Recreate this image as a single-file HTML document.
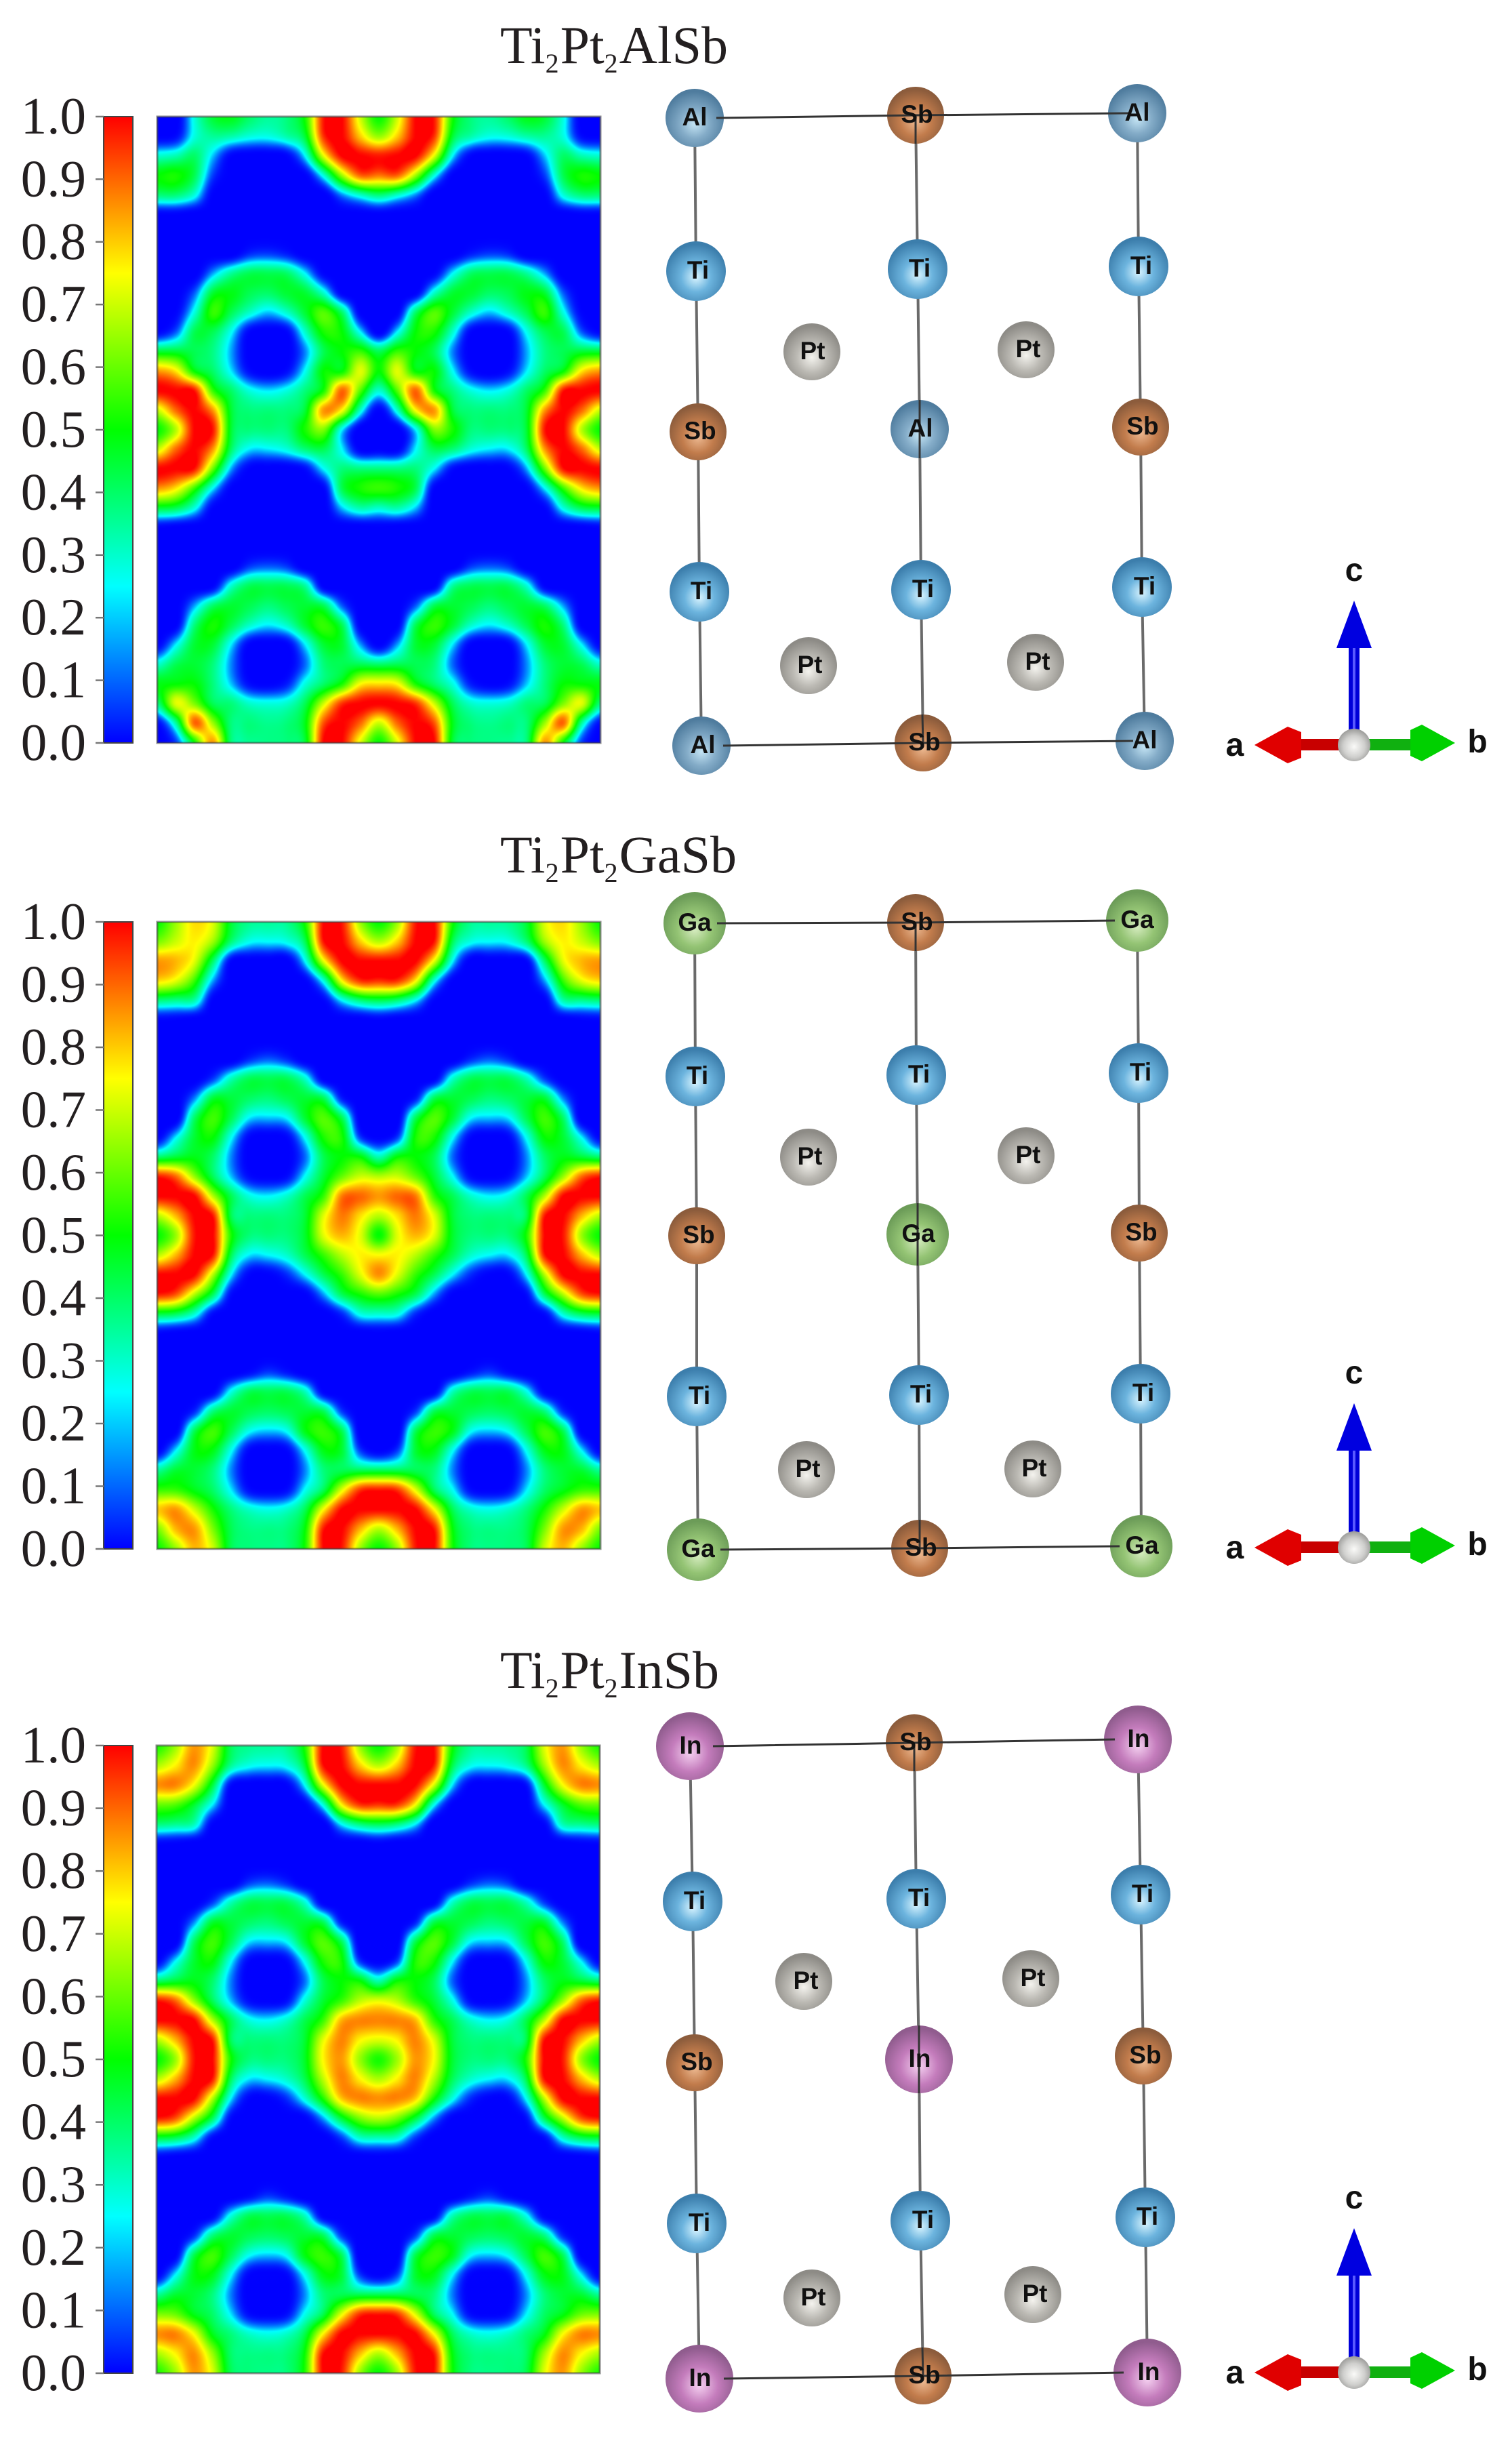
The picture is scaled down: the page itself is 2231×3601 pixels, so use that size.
<!DOCTYPE html>
<html lang="en">
<head>
<meta charset="utf-8">
<title>Ti2Pt2XSb electron localisation function maps and crystal structures</title>
<style>
html,body{margin:0;padding:0;background:#fff;}
#figure{position:relative;width:2231px;height:3601px;overflow:hidden;background:#fff;}
canvas{position:absolute;display:block;}
#overlay{position:absolute;left:0;top:0;}
.title{font-family:"Liberation Serif",serif;font-size:78px;fill:#231f20;}
.tick-label{font-family:"Liberation Serif",serif;font-size:77px;fill:#231f20;}
.atom-label{font-family:"Liberation Sans",sans-serif;font-size:37px;font-weight:bold;fill:#111;text-anchor:middle;}
.axis-letter{font-family:"Liberation Sans",sans-serif;font-size:48px;font-weight:bold;fill:#111;text-anchor:middle;}
.bond{stroke:#6a6a6a;stroke-width:4;fill:none;}
.over{stroke:#333;stroke-width:3;fill:none;}
</style>
</head>
<body>
<div id="figure">
<canvas id="map-al" width="654" height="924" style="left:232px;top:172px"></canvas>
<canvas id="map-ga" width="654" height="925" style="left:232px;top:1360px"></canvas>
<canvas id="map-in" width="654" height="926" style="left:231px;top:2575px"></canvas>
<svg id="overlay" width="2231" height="3601" viewBox="0 0 2231 3601" xmlns="http://www.w3.org/2000/svg">
<defs>
<linearGradient id="jet" x1="0" y1="1" x2="0" y2="0">
<stop offset="0" stop-color="#0000ff"/><stop offset=".25" stop-color="#00ffff"/><stop offset=".5" stop-color="#00ff00"/><stop offset=".75" stop-color="#ffff00"/><stop offset="1" stop-color="#ff0000"/>
</linearGradient>
<radialGradient id="g-al" cx=".5" cy=".6" r=".55"><stop offset="0" stop-color="#c4e4f4"/><stop offset=".45" stop-color="#84acc8"/><stop offset="1" stop-color="#4f7c9e"/></radialGradient>
<radialGradient id="g-ti" cx=".5" cy=".6" r=".55"><stop offset="0" stop-color="#d8f4ff"/><stop offset=".45" stop-color="#6cb4de"/><stop offset="1" stop-color="#3c7eac"/></radialGradient>
<radialGradient id="g-sb" cx=".5" cy=".6" r=".55"><stop offset="0" stop-color="#ecb890"/><stop offset=".5" stop-color="#c27c4c"/><stop offset="1" stop-color="#8c5c3c"/></radialGradient>
<radialGradient id="g-pt" cx=".5" cy=".6" r=".55"><stop offset="0" stop-color="#f4f3ee"/><stop offset=".5" stop-color="#bab8b2"/><stop offset="1" stop-color="#8d8b86"/></radialGradient>
<radialGradient id="g-ga" cx=".5" cy=".6" r=".55"><stop offset="0" stop-color="#d6ecc0"/><stop offset=".5" stop-color="#94c474"/><stop offset="1" stop-color="#6c9c58"/></radialGradient>
<radialGradient id="g-in" cx=".5" cy=".6" r=".55"><stop offset="0" stop-color="#f4d0f0"/><stop offset=".5" stop-color="#c47cbc"/><stop offset="1" stop-color="#905c8e"/></radialGradient>
<radialGradient id="g-origin" cx=".5" cy=".55" r=".55"><stop offset="0" stop-color="#fafaf8"/><stop offset=".6" stop-color="#cfcfcd"/><stop offset="1" stop-color="#9a9a98"/></radialGradient>
</defs>

<!-- Titles -->
<text class="title" x="738" y="93">Ti<tspan font-size="40" dy="14">2</tspan><tspan dy="-14" dx="2">Pt</tspan><tspan font-size="40" dy="14">2</tspan><tspan dy="-14" dx="2">AlSb</tspan></text>
<text class="title" x="738" y="1287">Ti<tspan font-size="40" dy="14">2</tspan><tspan dy="-14" dx="2">Pt</tspan><tspan font-size="40" dy="14">2</tspan><tspan dy="-14" dx="2">GaSb</tspan></text>
<text class="title" x="738" y="2490">Ti<tspan font-size="40" dy="14">2</tspan><tspan dy="-14" dx="2">Pt</tspan><tspan font-size="40" dy="14">2</tspan><tspan dy="-14" dx="2">InSb</tspan></text>

<!-- Map frames and colour bars -->
<rect x="232" y="172" width="654" height="924" fill="none" stroke="#444" stroke-opacity=".6" stroke-width="3"/>
<rect x="232" y="1360" width="654" height="925" fill="none" stroke="#444" stroke-opacity=".6" stroke-width="3"/>
<rect x="231" y="2575" width="654" height="926" fill="none" stroke="#444" stroke-opacity=".6" stroke-width="3"/>
<rect x="153" y="172" width="43" height="924" fill="url(#jet)" stroke="#444" stroke-width="2"/>
<rect x="153" y="1360" width="43" height="925" fill="url(#jet)" stroke="#444" stroke-width="2"/>
<rect x="153" y="2575" width="43" height="926" fill="url(#jet)" stroke="#444" stroke-width="2"/>
<g id="colorbar-ticks"></g>

<!-- Ti2Pt2AlSb structure -->
<g>
<g class="bond">
<path d="M1025 174L1027 400L1030 637L1032 873L1035 1100"/><path d="M1351 170L1354 397L1357 633L1359 870L1362 1096"/><path d="M1678 167L1680 393L1683 630L1685 866L1689 1093"/>
</g>
<g><circle cx="1025" cy="174" r="43" fill="url(#g-al)"/></g>
<g><circle cx="1351" cy="170" r="42" fill="url(#g-sb)"/></g>
<g><circle cx="1678" cy="167" r="43" fill="url(#g-al)"/></g>
<g><circle cx="1027" cy="400" r="44" fill="url(#g-ti)"/></g>
<g><circle cx="1354" cy="397" r="44" fill="url(#g-ti)"/></g>
<g><circle cx="1680" cy="393" r="44" fill="url(#g-ti)"/></g>
<g><circle cx="1030" cy="637" r="42" fill="url(#g-sb)"/></g>
<g><circle cx="1357" cy="633" r="43" fill="url(#g-al)"/></g>
<g><circle cx="1683" cy="630" r="42" fill="url(#g-sb)"/></g>
<g><circle cx="1032" cy="873" r="44" fill="url(#g-ti)"/></g>
<g><circle cx="1359" cy="870" r="44" fill="url(#g-ti)"/></g>
<g><circle cx="1685" cy="866" r="44" fill="url(#g-ti)"/></g>
<g><circle cx="1035" cy="1100" r="43" fill="url(#g-al)"/></g>
<g><circle cx="1362" cy="1096" r="42" fill="url(#g-sb)"/></g>
<g><circle cx="1689" cy="1093" r="43" fill="url(#g-al)"/></g>
<g><circle cx="1198" cy="519" r="42" fill="url(#g-pt)"/></g>
<g><circle cx="1514" cy="516" r="42" fill="url(#g-pt)"/></g>
<g><circle cx="1193" cy="982" r="42" fill="url(#g-pt)"/></g>
<g><circle cx="1528" cy="977" r="42" fill="url(#g-pt)"/></g>
<g class="over">
<path d="M1057 174L1351 170L1668 167"/><path d="M1067 1100L1362 1096L1672 1093"/><path d="M1351 170V212"/><path d="M1357 590V676"/><path d="M1361 1054L1362 1096"/>
</g>
<g>
<text class="atom-label" x="1025" y="185">Al</text>
<text class="atom-label" x="1353" y="181">Sb</text>
<text class="atom-label" x="1678" y="178">Al</text>
<text class="atom-label" x="1030" y="411">Ti</text>
<text class="atom-label" x="1357" y="408">Ti</text>
<text class="atom-label" x="1684" y="404">Ti</text>
<text class="atom-label" x="1033" y="648">Sb</text>
<text class="atom-label" x="1358" y="644">Al</text>
<text class="atom-label" x="1686" y="641">Sb</text>
<text class="atom-label" x="1035" y="884">Ti</text>
<text class="atom-label" x="1362" y="881">Ti</text>
<text class="atom-label" x="1689" y="877">Ti</text>
<text class="atom-label" x="1037" y="1111">Al</text>
<text class="atom-label" x="1364" y="1107">Sb</text>
<text class="atom-label" x="1689" y="1104">Al</text>
<text class="atom-label" x="1199" y="530">Pt</text>
<text class="atom-label" x="1517" y="527">Pt</text>
<text class="atom-label" x="1195" y="993">Pt</text>
<text class="atom-label" x="1531" y="988">Pt</text>
</g>
</g>

<!-- Ti2Pt2GaSb structure -->
<g>
<g class="bond">
<path d="M1025 1362L1026 1588L1028 1823L1028 2060L1030 2286"/><path d="M1351 1361L1352 1586L1354 1821L1356 2058L1357 2284"/><path d="M1678 1358L1680 1583L1681 1819L1683 2056L1684 2281"/>
</g>
<g><circle cx="1025" cy="1362" r="46" fill="url(#g-ga)"/></g>
<g><circle cx="1351" cy="1361" r="42" fill="url(#g-sb)"/></g>
<g><circle cx="1678" cy="1358" r="46" fill="url(#g-ga)"/></g>
<g><circle cx="1026" cy="1588" r="44" fill="url(#g-ti)"/></g>
<g><circle cx="1352" cy="1586" r="44" fill="url(#g-ti)"/></g>
<g><circle cx="1680" cy="1583" r="44" fill="url(#g-ti)"/></g>
<g><circle cx="1028" cy="1823" r="42" fill="url(#g-sb)"/></g>
<g><circle cx="1354" cy="1821" r="46" fill="url(#g-ga)"/></g>
<g><circle cx="1681" cy="1819" r="42" fill="url(#g-sb)"/></g>
<g><circle cx="1028" cy="2060" r="44" fill="url(#g-ti)"/></g>
<g><circle cx="1356" cy="2058" r="44" fill="url(#g-ti)"/></g>
<g><circle cx="1683" cy="2056" r="44" fill="url(#g-ti)"/></g>
<g><circle cx="1030" cy="2286" r="46" fill="url(#g-ga)"/></g>
<g><circle cx="1357" cy="2284" r="42" fill="url(#g-sb)"/></g>
<g><circle cx="1684" cy="2281" r="46" fill="url(#g-ga)"/></g>
<g><circle cx="1193" cy="1707" r="42" fill="url(#g-pt)"/></g>
<g><circle cx="1514" cy="1705" r="42" fill="url(#g-pt)"/></g>
<g><circle cx="1190" cy="2168" r="42" fill="url(#g-pt)"/></g>
<g><circle cx="1524" cy="2167" r="42" fill="url(#g-pt)"/></g>
<g class="over">
<path d="M1058 1362L1351 1361L1645 1358"/><path d="M1063 2286L1357 2284L1652 2281"/><path d="M1351 1361V1403"/><path d="M1354 1775V1867"/><path d="M1357 2242V2284"/>
</g>
<g>
<text class="atom-label" x="1025" y="1373">Ga</text>
<text class="atom-label" x="1353" y="1372">Sb</text>
<text class="atom-label" x="1678" y="1369">Ga</text>
<text class="atom-label" x="1029" y="1599">Ti</text>
<text class="atom-label" x="1356" y="1597">Ti</text>
<text class="atom-label" x="1683" y="1594">Ti</text>
<text class="atom-label" x="1031" y="1834">Sb</text>
<text class="atom-label" x="1355" y="1832">Ga</text>
<text class="atom-label" x="1684" y="1830">Sb</text>
<text class="atom-label" x="1032" y="2071">Ti</text>
<text class="atom-label" x="1359" y="2069">Ti</text>
<text class="atom-label" x="1687" y="2067">Ti</text>
<text class="atom-label" x="1030" y="2297">Ga</text>
<text class="atom-label" x="1359" y="2295">Sb</text>
<text class="atom-label" x="1685" y="2292">Ga</text>
<text class="atom-label" x="1195" y="1718">Pt</text>
<text class="atom-label" x="1517" y="1716">Pt</text>
<text class="atom-label" x="1192" y="2179">Pt</text>
<text class="atom-label" x="1526" y="2178">Pt</text>
</g>
</g>

<!-- Ti2Pt2InSb structure -->
<g>
<g class="bond">
<path d="M1018 2576L1022 2805L1025 3043L1028 3280L1032 3509"/><path d="M1349 2571L1352 2801L1356 3038L1358 3276L1362 3505"/><path d="M1679 2566L1683 2795L1687 3033L1690 3271L1693 3500"/>
</g>
<g><circle cx="1018" cy="2576" r="50" fill="url(#g-in)"/></g>
<g><circle cx="1349" cy="2571" r="42" fill="url(#g-sb)"/></g>
<g><circle cx="1679" cy="2566" r="50" fill="url(#g-in)"/></g>
<g><circle cx="1022" cy="2805" r="44" fill="url(#g-ti)"/></g>
<g><circle cx="1352" cy="2801" r="44" fill="url(#g-ti)"/></g>
<g><circle cx="1683" cy="2795" r="44" fill="url(#g-ti)"/></g>
<g><circle cx="1025" cy="3043" r="42" fill="url(#g-sb)"/></g>
<g><circle cx="1356" cy="3038" r="50" fill="url(#g-in)"/></g>
<g><circle cx="1687" cy="3033" r="42" fill="url(#g-sb)"/></g>
<g><circle cx="1028" cy="3280" r="44" fill="url(#g-ti)"/></g>
<g><circle cx="1358" cy="3276" r="44" fill="url(#g-ti)"/></g>
<g><circle cx="1690" cy="3271" r="44" fill="url(#g-ti)"/></g>
<g><circle cx="1032" cy="3509" r="50" fill="url(#g-in)"/></g>
<g><circle cx="1362" cy="3505" r="42" fill="url(#g-sb)"/></g>
<g><circle cx="1693" cy="3500" r="50" fill="url(#g-in)"/></g>
<g><circle cx="1186" cy="2923" r="42" fill="url(#g-pt)"/></g>
<g><circle cx="1521" cy="2919" r="42" fill="url(#g-pt)"/></g>
<g><circle cx="1198" cy="3390" r="42" fill="url(#g-pt)"/></g>
<g><circle cx="1524" cy="3385" r="42" fill="url(#g-pt)"/></g>
<g class="over">
<path d="M1052 2576L1349 2571L1645 2566"/><path d="M1068 3509L1362 3505L1658 3500"/><path d="M1349 2571V2613"/><path d="M1356 2988V3088"/><path d="M1361 3463L1362 3505"/>
</g>
<g>
<text class="atom-label" x="1019" y="2587">In</text>
<text class="atom-label" x="1351" y="2582">Sb</text>
<text class="atom-label" x="1680" y="2577">In</text>
<text class="atom-label" x="1025" y="2816">Ti</text>
<text class="atom-label" x="1356" y="2812">Ti</text>
<text class="atom-label" x="1686" y="2806">Ti</text>
<text class="atom-label" x="1028" y="3054">Sb</text>
<text class="atom-label" x="1357" y="3049">In</text>
<text class="atom-label" x="1690" y="3044">Sb</text>
<text class="atom-label" x="1032" y="3291">Ti</text>
<text class="atom-label" x="1362" y="3287">Ti</text>
<text class="atom-label" x="1693" y="3282">Ti</text>
<text class="atom-label" x="1033" y="3520">In</text>
<text class="atom-label" x="1364" y="3516">Sb</text>
<text class="atom-label" x="1695" y="3511">In</text>
<text class="atom-label" x="1189" y="2934">Pt</text>
<text class="atom-label" x="1524" y="2930">Pt</text>
<text class="atom-label" x="1200" y="3401">Pt</text>
<text class="atom-label" x="1527" y="3396">Pt</text>
</g>
</g>

<!-- Orientation axes -->
<g>
<rect x="1990" y="950" width="16" height="140" fill="#0000d8"/><rect x="1996" y="950" width="4" height="140" fill="#5a5aff"/>
<polygon points="1998,886 2024,956 1972,956" fill="#0000e0"/>
<rect x="1905" y="1090" width="78" height="17" fill="#c80000"/>
<polygon points="1851,1099 1900,1072 1920,1080 1920,1118 1900,1126" fill="#e00000"/>
<rect x="2012" y="1090" width="76" height="17" fill="#10b010"/>
<polygon points="2147,1096 2098,1069 2081,1077 2081,1115 2098,1123" fill="#00d000"/>
<circle cx="1998" cy="1099" r="24" fill="url(#g-origin)"/>
<text class="axis-letter" x="1998" y="857">c</text>
<text class="axis-letter" x="1822" y="1115">a</text>
<text class="axis-letter" x="2180" y="1110">b</text>
</g>
<g transform="translate(0,1184)">
<rect x="1990" y="950" width="16" height="140" fill="#0000d8"/><rect x="1996" y="950" width="4" height="140" fill="#5a5aff"/>
<polygon points="1998,886 2024,956 1972,956" fill="#0000e0"/>
<rect x="1905" y="1090" width="78" height="17" fill="#c80000"/>
<polygon points="1851,1099 1900,1072 1920,1080 1920,1118 1900,1126" fill="#e00000"/>
<rect x="2012" y="1090" width="76" height="17" fill="#10b010"/>
<polygon points="2147,1096 2098,1069 2081,1077 2081,1115 2098,1123" fill="#00d000"/>
<circle cx="1998" cy="1099" r="24" fill="url(#g-origin)"/>
<text class="axis-letter" x="1998" y="857">c</text>
<text class="axis-letter" x="1822" y="1115">a</text>
<text class="axis-letter" x="2180" y="1110">b</text>
</g>
<g transform="translate(0,2401)">
<rect x="1990" y="950" width="16" height="140" fill="#0000d8"/><rect x="1996" y="950" width="4" height="140" fill="#5a5aff"/>
<polygon points="1998,886 2024,956 1972,956" fill="#0000e0"/>
<rect x="1905" y="1090" width="78" height="17" fill="#c80000"/>
<polygon points="1851,1099 1900,1072 1920,1080 1920,1118 1900,1126" fill="#e00000"/>
<rect x="2012" y="1090" width="76" height="17" fill="#10b010"/>
<polygon points="2147,1096 2098,1069 2081,1077 2081,1115 2098,1123" fill="#00d000"/>
<circle cx="1998" cy="1099" r="24" fill="url(#g-origin)"/>
<text class="axis-letter" x="1998" y="857">c</text>
<text class="axis-letter" x="1822" y="1115">a</text>
<text class="axis-letter" x="2180" y="1110">b</text>
</g>
</svg>
</div>
<script>
// Colour-bar tick values, shared by all three panels.
const tickValues = [0.0, 0.1, 0.2, 0.3, 0.4, 0.5, 0.6, 0.7, 0.8, 0.9, 1.0];
const tickLabels = ["0.0", "0.1", "0.2", "0.3", "0.4", "0.5", "0.6", "0.7", "0.8", "0.9", "1.0"];

// ELF values in hundredths, read from the maps: 33 rows top to bottom,
// 13 columns from the left edge to the centre line (the right half mirrors them).
const elfAlSb = [
[0,0,28,45,48,40,35,38,52,98,100,70,50],
[2,5,28,35,33,28,27,33,45,95,100,80,65],
[30,33,40,22,3,0,0,3,25,72,100,100,98],
[50,52,42,12,0,0,0,0,2,28,65,90,88],
[38,38,28,2,0,0,0,0,0,0,18,30,38],
[2,2,0,0,0,0,0,0,0,0,0,0,1],
[0,0,0,0,0,0,0,0,0,0,0,0,0],
[0,0,0,0,0,10,12,8,0,0,0,0,0],
[0,0,0,20,35,42,42,40,25,3,0,0,0],
[0,0,15,45,48,42,40,45,45,30,2,0,0],
[0,3,28,55,42,30,22,30,45,58,40,2,0],
[3,15,42,42,26,3,0,3,30,52,50,25,1],
[45,45,42,37,20,0,0,0,18,42,50,55,42],
[85,77,50,40,24,5,0,5,26,50,50,72,50],
[100,100,98,55,40,28,24,28,38,52,90,58,30],
[70,90,100,85,45,38,38,38,45,85,75,30,3],
[50,68,100,98,45,38,38,38,52,62,25,0,0],
[70,90,100,85,40,24,24,28,38,42,25,2,2],
[100,100,98,60,20,2,0,0,5,25,38,38,38],
[85,77,55,25,2,0,0,0,0,3,42,52,55],
[45,42,28,3,0,0,0,0,0,0,22,33,30],
[3,1,0,0,0,0,0,0,0,0,0,0,1],
[0,0,0,0,0,0,0,0,0,0,0,0,0],
[0,0,0,0,0,12,15,12,0,0,0,0,0],
[0,0,0,3,30,42,42,42,35,2,0,0,0],
[0,0,20,40,45,42,38,42,45,42,15,0,0],
[0,2,38,52,42,30,24,30,45,55,42,2,0],
[3,25,45,45,24,2,0,2,24,45,45,20,2],
[30,42,45,38,18,0,0,0,16,38,42,42,40],
[48,50,50,38,22,5,2,8,28,40,52,75,78],
[38,72,62,42,38,30,28,30,42,70,95,100,100],
[5,35,90,65,38,38,36,38,48,92,100,90,70],
[0,12,50,85,38,36,37,38,45,100,100,72,50]
];
const elfGaSb = [
[50,65,78,72,45,36,35,36,52,100,98,65,50],
[62,70,76,65,38,26,25,27,42,98,100,80,68],
[85,82,72,40,3,0,0,0,25,72,100,100,100],
[78,72,55,20,0,0,0,0,2,28,75,95,95],
[38,36,33,2,0,0,0,0,0,3,25,38,42],
[3,2,0,0,0,0,0,0,0,0,0,0,2],
[0,0,0,0,0,0,0,0,0,0,0,0,0],
[0,0,0,0,0,10,15,10,0,0,0,0,0],
[0,0,0,12,32,42,42,42,30,2,0,0,0],
[0,0,18,45,44,40,38,42,45,42,8,0,0],
[0,0,40,56,42,24,22,25,45,58,42,0,0],
[3,25,45,50,26,3,0,3,26,52,52,12,2],
[40,45,48,40,18,0,0,0,16,42,50,50,33],
[98,90,65,42,22,5,2,5,26,45,60,70,68],
[100,100,100,68,42,28,25,30,42,55,88,90,85],
[68,82,100,98,42,38,38,38,45,72,88,78,68],
[50,65,98,100,52,38,38,38,46,72,82,72,50],
[68,82,100,98,42,24,25,30,42,55,68,76,75],
[100,100,100,68,25,3,2,10,25,42,55,72,86],
[98,92,68,42,5,0,0,0,2,20,42,52,58],
[45,42,30,5,0,0,0,0,0,0,10,28,30],
[3,1,0,0,0,0,0,0,0,0,0,0,1],
[0,0,0,0,0,0,0,0,0,0,0,0,0],
[0,0,0,0,0,5,12,7,0,0,0,0,0],
[0,0,0,3,28,42,42,42,32,3,0,0,0],
[0,0,10,38,45,42,40,42,45,42,12,0,0],
[0,2,42,56,42,26,22,26,48,55,42,0,0],
[2,25,48,48,26,3,0,3,26,48,45,12,2],
[35,45,45,38,18,0,0,0,18,38,42,42,42],
[55,55,48,40,24,5,2,5,26,42,72,95,98],
[80,85,70,52,38,30,27,30,42,75,100,100,100],
[62,82,85,62,42,37,37,38,50,98,100,82,68],
[50,65,82,70,42,38,37,38,52,100,98,65,50]
];
const elfInSb = [
[52,65,85,72,42,36,35,36,52,100,98,65,50],
[67,76,86,65,36,27,25,27,44,98,100,80,68],
[86,87,74,45,5,0,0,2,25,72,100,100,100],
[60,58,46,25,0,0,0,0,2,28,75,95,95],
[38,36,32,3,0,0,0,0,0,0,25,38,42],
[3,2,0,0,0,0,0,0,0,0,0,0,2],
[0,0,0,0,0,0,0,0,0,0,0,0,0],
[0,0,0,0,0,12,15,10,0,0,0,0,0],
[0,0,0,12,32,42,42,42,30,2,0,0,0],
[0,0,18,45,44,40,38,42,45,42,8,0,0],
[0,0,40,56,42,24,22,25,45,58,42,0,0],
[3,25,45,50,26,3,0,3,26,52,52,12,2],
[40,45,48,40,18,0,0,0,16,42,50,50,33],
[98,90,65,42,22,5,2,5,28,45,55,68,72],
[100,100,100,68,42,28,25,30,42,55,82,87,87],
[68,82,100,98,42,38,38,38,45,72,87,76,72],
[50,65,98,100,52,38,38,38,46,75,85,65,52],
[68,82,100,98,42,24,25,30,42,68,87,76,67],
[100,100,100,68,25,3,2,10,28,52,80,87,86],
[98,92,68,42,5,0,0,0,2,20,45,62,68],
[45,42,30,5,0,0,0,0,0,0,12,30,32],
[3,1,0,0,0,0,0,0,0,0,0,0,1],
[0,0,0,0,0,0,0,0,0,0,0,0,0],
[0,0,0,0,0,5,12,7,0,0,0,0,0],
[0,0,0,3,28,42,42,42,32,3,0,0,0],
[0,0,10,38,45,42,40,42,45,42,12,0,0],
[0,2,42,56,42,26,22,26,48,55,42,0,0],
[2,25,48,48,26,3,0,3,26,48,45,12,2],
[35,45,45,38,18,0,0,0,18,38,42,42,42],
[62,60,48,40,24,5,2,5,26,42,72,95,98],
[86,87,74,48,38,30,27,30,42,75,100,100,100],
[67,76,86,65,40,37,37,38,50,98,100,82,68],
[52,65,85,72,42,38,37,38,52,100,98,65,50]
];

// Colour axis: ELF (0..1) to the jet-style ramp, with the blue end eased so the
// blue core stays deep up to the narrow cyan contour, as in the source maps.
function colorScale(t) {
  t = Math.max(0, Math.min(1, t));
  if (t < 0.25) {
    const s = t / 0.25;
    return [0, 255 * s * s, 255];
  }
  if (t < 0.5) return [0, 255, 255 - 1020 * (t - 0.25)];
  if (t < 0.75) return [1020 * (t - 0.5), 255, 0];
  return [255, 255 - 1020 * (t - 0.75), 0];
}

// Grid value with mirroring about the centre column and edge clamping.
function gridValue(rows, r, c) {
  r = Math.max(0, Math.min(rows.length - 1, r));
  c = Math.max(0, Math.min(24, c));
  const col = c <= 12 ? c : 24 - c;
  return rows[r][col] / 100;
}

function catmull(a, b, c, d, t) {
  return b + 0.5 * t * (c - a + t * (2 * a - 5 * b + 4 * c - d + t * (3 * (b - c) + d - a)));
}

function fieldAt(rows, u, v) {
  const x = u * 24, y = v * (rows.length - 1);
  const c0 = Math.floor(x), r0 = Math.floor(y);
  const tx = x - c0, ty = y - r0;
  const rowVals = [];
  for (let i = -1; i <= 2; i++) {
    rowVals.push(catmull(
      gridValue(rows, r0 + i, c0 - 1),
      gridValue(rows, r0 + i, c0),
      gridValue(rows, r0 + i, c0 + 1),
      gridValue(rows, r0 + i, c0 + 2), tx));
  }
  return catmull(rowVals[0], rowVals[1], rowVals[2], rowVals[3], ty);
}

function drawMap(id, rows) {
  const cv = document.getElementById(id);
  const ctx = cv.getContext('2d');
  const w = cv.width, h = cv.height;
  const img = ctx.createImageData(w, h);
  let p = 0;
  for (let y = 0; y < h; y++) {
    for (let x = 0; x < w; x++) {
      const col = colorScale(fieldAt(rows, x / (w - 1), y / (h - 1)));
      img.data[p++] = col[0];
      img.data[p++] = col[1];
      img.data[p++] = col[2];
      img.data[p++] = 255;
    }
  }
  ctx.putImageData(img, 0, 0);
}

drawMap('map-al', elfAlSb);
drawMap('map-ga', elfGaSb);
drawMap('map-in', elfInSb);

// Tick marks and tick labels drawn through each colour bar's value axis.
const SVGNS = 'http://www.w3.org/2000/svg';
const tickLayer = document.getElementById('colorbar-ticks');
function barAxis(top, bottom) {
  return function (value) { return bottom - (bottom - top) * value; };
}
function drawTicks(top, bottom) {
  const yOf = barAxis(top, bottom);
  tickValues.forEach(function (value, i) {
    const y = yOf(value);
    const mark = document.createElementNS(SVGNS, 'line');
    mark.setAttribute('x1', '141');
    mark.setAttribute('x2', '153');
    mark.setAttribute('y1', y);
    mark.setAttribute('y2', y);
    mark.setAttribute('stroke', '#777');
    mark.setAttribute('stroke-width', '2.5');
    
    
    tickLayer.appendChild(mark);
    const label = document.createElementNS(SVGNS, 'text');
    label.setAttribute('class', 'tick-label');
    label.setAttribute('x', '127');
    label.setAttribute('y', y + 25);
    label.setAttribute('text-anchor', 'end');
    
    
    label.textContent = tickLabels[i];
    tickLayer.appendChild(label);
  });
}
drawTicks(172, 1096);
drawTicks(1360, 2285);
drawTicks(2575, 3501);
</script>
</body>
</html>
